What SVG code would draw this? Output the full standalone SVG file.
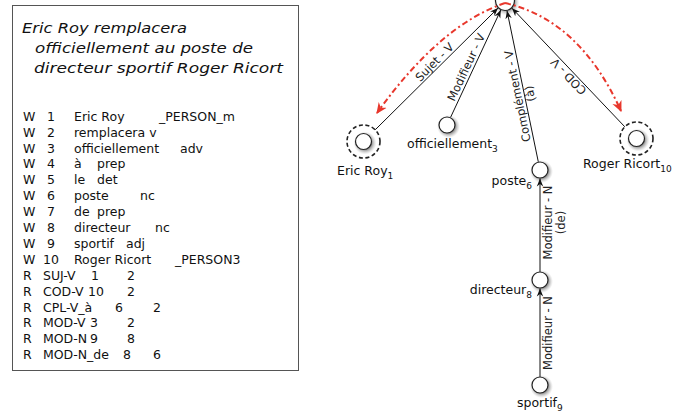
<svg xmlns="http://www.w3.org/2000/svg" width="677" height="414" viewBox="0 0 677 414">
<style>
.title{font-family:"DejaVu Sans",Verdana,sans-serif;font-style:italic;font-size:13.5px;fill:#111}
.tbl{font-family:"DejaVu Sans",Verdana,sans-serif;font-size:12.5px;fill:#111}
.nl{font-family:"DejaVu Sans",Verdana,sans-serif;font-size:12.5px;fill:#111}
.sub{font-size:9px}
.el{font-family:"DejaVu Sans",Verdana,sans-serif;font-size:11.5px;fill:#222}
.edge{stroke:#111;stroke-width:1;fill:none;marker-end:url(#ah)}
.red{stroke:#e8372c;stroke-width:2;fill:none;stroke-dasharray:6 3 2 3;marker-end:url(#rh)}
.node{fill:#fff;stroke:#222;stroke-width:1.2}
.shadow{fill:url(#shade)}
.ring{fill:none;stroke:#222;stroke-width:1.6;stroke-dasharray:4 2.6}
</style>
<defs>
<radialGradient id="shade" cx="0.5" cy="0.5" r="0.5">
<stop offset="0.55" stop-color="#777" stop-opacity="0.9"/>
<stop offset="1" stop-color="#bbb" stop-opacity="0"/>
</radialGradient>
<marker id="ah" viewBox="0 0 10 10" refX="10" refY="5" markerWidth="8" markerHeight="8" orient="auto" markerUnits="userSpaceOnUse">
<path d="M0,1 L10,5 L0,9 L3,5 z" fill="#111"/>
</marker>
<marker id="rh" viewBox="0 0 10 10" refX="9" refY="5" markerWidth="11" markerHeight="11" orient="auto" markerUnits="userSpaceOnUse">
<path d="M0,0.5 L10,5 L0,9.5 L3,5 z" fill="#e8372c"/>
</marker>
</defs>
<rect width="677" height="414" fill="#fff"/>

<g id="sentence-panel">
<rect x="12.5" y="5.5" width="286" height="365" fill="#fff" stroke="#555" stroke-width="1"/>
<text class="title" x="22" y="33" textLength="165" lengthAdjust="spacingAndGlyphs">Eric Roy remplacera</text>
<text class="title" x="35" y="53" textLength="218" lengthAdjust="spacingAndGlyphs">officiellement au poste de</text>
<text class="title" x="34" y="73" textLength="249" lengthAdjust="spacingAndGlyphs">directeur sportif Roger Ricort</text>
<g class="tbl">
<text y="120.7"><tspan x="23">W</tspan><tspan x="47">1</tspan><tspan x="74">Eric Roy</tspan><tspan x="159">_PERSON_m</tspan></text>
<text y="136.6"><tspan x="23">W</tspan><tspan x="47">2</tspan><tspan x="74">remplacera v</tspan></text>
<text y="152.5"><tspan x="23">W</tspan><tspan x="47">3</tspan><tspan x="74">officiellement</tspan><tspan x="180">adv</tspan></text>
<text y="168.4"><tspan x="23">W</tspan><tspan x="47">4</tspan><tspan x="74">à</tspan><tspan x="97">prep</tspan></text>
<text y="184.3"><tspan x="23">W</tspan><tspan x="47">5</tspan><tspan x="74">le</tspan><tspan x="97">det</tspan></text>
<text y="200.2"><tspan x="23">W</tspan><tspan x="47">6</tspan><tspan x="74">poste</tspan><tspan x="140">nc</tspan></text>
<text y="216.1"><tspan x="23">W</tspan><tspan x="47">7</tspan><tspan x="74">de</tspan><tspan x="97">prep</tspan></text>
<text y="232.0"><tspan x="23">W</tspan><tspan x="47">8</tspan><tspan x="74">directeur</tspan><tspan x="155">nc</tspan></text>
<text y="247.9"><tspan x="23">W</tspan><tspan x="47">9</tspan><tspan x="74">sportif</tspan><tspan x="126">adj</tspan></text>
<text y="263.8"><tspan x="23">W</tspan><tspan x="43">10</tspan><tspan x="74">Roger Ricort</tspan><tspan x="175">_PERSON3</tspan></text>
<text y="279.7"><tspan x="23">R</tspan><tspan x="43">SUJ-V</tspan><tspan x="91">1</tspan><tspan x="127">2</tspan></text>
<text y="295.6"><tspan x="23">R</tspan><tspan x="43">COD-V</tspan><tspan x="88">10</tspan><tspan x="127">2</tspan></text>
<text y="311.5"><tspan x="23">R</tspan><tspan x="43">CPL-V_à</tspan><tspan x="115">6</tspan><tspan x="153">2</tspan></text>
<text y="327.4"><tspan x="23">R</tspan><tspan x="43">MOD-V</tspan><tspan x="90">3</tspan><tspan x="127">2</tspan></text>
<text y="343.3"><tspan x="23">R</tspan><tspan x="43">MOD-N</tspan><tspan x="90">9</tspan><tspan x="127">8</tspan></text>
<text y="359.2"><tspan x="23">R</tspan><tspan x="43">MOD-N_de</tspan><tspan x="123">8</tspan><tspan x="153">6</tspan></text>
</g>
</g>

<g id="node-remplacera">
<circle class="shadow" cx="506.5" cy="2.5" r="13"/>
<circle class="node" cx="505" cy="1" r="9.5"/>
</g>
<g id="node-eric-roy">
<circle class="shadow" cx="365" cy="143" r="11.5"/>
<circle class="node" cx="363.5" cy="141.5" r="8"/>
<circle class="ring" cx="363.5" cy="141.5" r="16.5"/>
<text class="nl" x="337" y="175">Eric Roy<tspan class="sub" dy="4">1</tspan></text>
</g>
<g id="node-officiellement">
<circle class="shadow" cx="448.5" cy="126.5" r="11.5"/>
<circle class="node" cx="447" cy="125" r="8"/>
<text class="nl" x="407" y="148">officiellement<tspan class="sub" dy="4">3</tspan></text>
</g>
<g id="node-roger-ricort">
<circle class="shadow" cx="638" cy="140" r="11.5"/>
<circle class="node" cx="636.5" cy="138.5" r="8"/>
<circle class="ring" cx="636.5" cy="138.5" r="16.5"/>
<text class="nl" x="583" y="168">Roger Ricort<tspan class="sub" dy="4">10</tspan></text>
</g>
<g id="node-poste">
<circle class="shadow" cx="541.5" cy="171.5" r="11.5"/>
<circle class="node" cx="540" cy="170" r="8"/>
<text class="nl" x="532" y="185" text-anchor="end">poste<tspan class="sub" dy="4">6</tspan></text>
</g>
<g id="node-directeur">
<circle class="shadow" cx="541.5" cy="281.5" r="11.5"/>
<circle class="node" cx="540" cy="280" r="8"/>
<text class="nl" x="532" y="294" text-anchor="end">directeur<tspan class="sub" dy="4">8</tspan></text>
</g>
<g id="node-sportif">
<circle class="shadow" cx="541.5" cy="386.5" r="11.5"/>
<circle class="node" cx="540" cy="385" r="8"/>
<text class="nl" x="517" y="407">sportif<tspan class="sub" dy="4">9</tspan></text>
</g>

<g id="connectors">
<line class="edge" x1="375.2" y1="129.8" x2="498" y2="8.1"/>
<line class="edge" x1="450.6" y1="117.3" x2="500.8" y2="10"/>
<line class="edge" x1="538.3" y1="161.8" x2="507" y2="10.8"/>
<line class="edge" x1="624.8" y1="126.8" x2="512" y2="8.2"/>
<line class="edge" x1="540" y1="271.8" x2="540" y2="178.5"/>
<line class="edge" x1="540" y1="376.8" x2="540" y2="288.5"/>
<path class="red" d="M505,3 Q440,25 377,113"/>
<path class="red" d="M505,3 Q580,20 621,111"/>
<text class="el" transform="translate(439.5,67) rotate(-45.2)" y="-3" text-anchor="middle">Sujet - V</text>
<text class="el" transform="translate(472.6,70.2) rotate(-64.9)" y="-3" text-anchor="middle">Modifieur - V</text>
<text class="el" transform="translate(523.5,95) rotate(-101.5)" text-anchor="middle"><tspan x="0" y="-2">Complément - V</tspan><tspan x="0" y="10.5">(à)</tspan></text>
<text class="el" transform="translate(573.6,71.6) rotate(-134.1)" y="-3" text-anchor="middle">COD - V</text>
<text class="el" transform="translate(540,222.5) rotate(-90)" text-anchor="middle"><tspan x="0" y="12">Modifieur - N</tspan><tspan x="0" y="25">(de)</tspan></text>
<text class="el" transform="translate(540,333) rotate(-90)" text-anchor="middle" y="12">Modifieur - N</text>
</g>
</svg>
